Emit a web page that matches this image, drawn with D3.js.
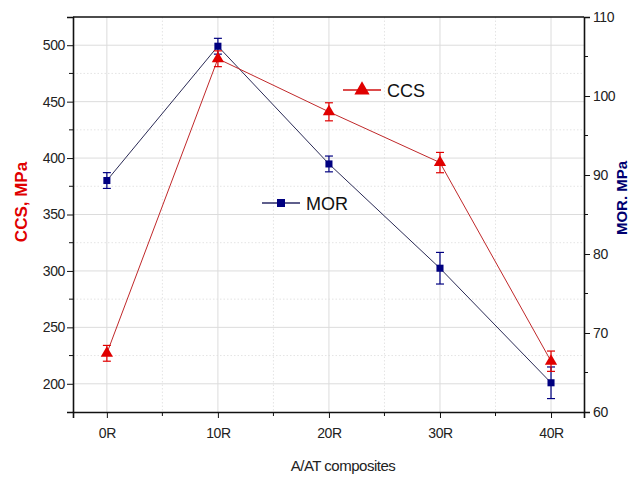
<!DOCTYPE html>
<html>
<head>
<meta charset="utf-8">
<script src="https://cdn.jsdelivr.net/npm/d3@7"></script>
<style>
  body { margin: 0; background: #fff; }
  svg { display: block; font-family: "Liberation Sans", Arial, sans-serif; }
  .grid-major line { stroke: #dcdcdc; stroke-width: 1; }
  .grid-minor line { stroke: #e4e4e4; stroke-width: 1; stroke-dasharray: 1.5, 2; }
  .axis path, .axis line { stroke: #111; }
  .axis text { font-family: "Liberation Sans", Arial, sans-serif; font-size: 14px; fill: #222; letter-spacing: -0.4px; }
</style>
</head>
<body>
<svg id="chart" width="629" height="479"></svg>
<script>
// categories (A/AT composites, % replacement)
const categories = ['0R', '10R', '20R', '30R', '40R'];
const xValues = [0, 10, 20, 30, 40];
// CCS, MPa (left axis)
const ccs = [227, 488, 441, 396, 220];
const ccsErr = [7, 7, 8, 9, 9];
// MOR, MPa (right axis)
const mor = [89.3, 106.3, 91.4, 78.2, 63.7];
const morErr = [1.0, 1.0, 1.0, 2.0, 2.0];
// tick values
const leftTicks = [200, 250, 300, 350, 400, 450, 500];
const rightTicks = [60, 70, 80, 90, 100, 110];

const margin = { top: 17, right: 45, bottom: 67, left: 73 };
const width = 629 - margin.left - margin.right;
const height = 479 - margin.top - margin.bottom;

const svg = d3.select('#chart');
const g = svg.append('g').attr('transform', `translate(${margin.left},${margin.top})`);

const x = d3.scaleLinear().domain([-3.05, 42.97]).range([0, width]);
const yL = d3.scaleLinear().domain([175, 525]).range([height, 0]);
const yR = d3.scaleLinear().domain([60, 110]).range([height, 0]);

// grid
const minorX = [5, 15, 25, 35];
const minorY = [225, 275, 325, 375, 425, 475];
const gMin = g.append('g').attr('class', 'grid-minor');
gMin.selectAll('line.v').data(minorX).enter().append('line')
  .attr('class', 'v')
  .attr('x1', d => x(d)).attr('x2', d => x(d)).attr('y1', 0).attr('y2', height);
gMin.selectAll('line.h').data(minorY).enter().append('line')
  .attr('class', 'h')
  .attr('x1', 0).attr('x2', width).attr('y1', d => yL(d)).attr('y2', d => yL(d));
const gMaj = g.append('g').attr('class', 'grid-major');
gMaj.selectAll('line.v').data(xValues).enter().append('line')
  .attr('class', 'v')
  .attr('x1', d => x(d)).attr('x2', d => x(d)).attr('y1', 0).attr('y2', height);
gMaj.selectAll('line.h').data(leftTicks).enter().append('line')
  .attr('class', 'h')
  .attr('x1', 0).attr('x2', width).attr('y1', d => yL(d)).attr('y2', d => yL(d));

// axes
const xAxis = g.append('g').attr('class', 'axis')
  .attr('transform', `translate(0,${height})`)
  .call(d3.axisBottom(x).tickValues(xValues).tickSize(6).tickPadding(10)
    .tickFormat((d, i) => categories[i]));
xAxis.selectAll('.minor').data(minorX).enter().append('line')
  .attr('class', 'minor').attr('x1', d => x(d)).attr('x2', d => x(d)).attr('y1', 0).attr('y2', 4)
  .attr('stroke', '#111');

const lAxis = g.append('g').attr('class', 'axis')
  .call(d3.axisLeft(yL).tickValues(leftTicks).tickSize(6).tickPadding(2));
lAxis.selectAll('.minor').data(minorY).enter().append('line')
  .attr('class', 'minor').attr('x1', 0).attr('x2', -4).attr('y1', d => yL(d)).attr('y2', d => yL(d))
  .attr('stroke', '#111');

const rAxis = g.append('g').attr('class', 'axis')
  .attr('transform', `translate(${width},0)`)
  .call(d3.axisRight(yR).tickValues(rightTicks).tickSize(6).tickPadding(3));
rAxis.selectAll('.minor').data([65, 75, 85, 95, 105]).enter().append('line')
  .attr('class', 'minor').attr('x1', 0).attr('x2', 4).attr('y1', d => yR(d)).attr('y2', d => yR(d))
  .attr('stroke', '#111');

g.selectAll('.axis .domain').attr('stroke-width', 1.6);
g.append('line').attr('x1', 0).attr('x2', width).attr('y1', 0).attr('y2', 0)
  .attr('stroke', '#111').attr('stroke-width', 1.6);

// series
const series = [
  { name: 'CCS', vals: ccs, err: ccsErr, y: yL, line: '#c0282a', mark: '#e00000', shape: d3.symbolTriangle },
  { name: 'MOR', vals: mor, err: morErr, y: yR, line: '#2a2a55', mark: '#000080', shape: d3.symbolSquare }
];

series.slice().reverse().forEach(s => {
  g.append('path')
    .datum(s.vals)
    .attr('fill', 'none')
    .attr('stroke', s.line)
    .attr('stroke-width', 1)
    .attr('d', d3.line().x((d, i) => x(xValues[i])).y(d => s.y(d)));
  const eb = g.append('g').attr('stroke', s.mark).attr('stroke-width', 1.2);
  s.vals.forEach((v, i) => {
    const cx = x(xValues[i]);
    const t = s.y(v + s.err[i]), b = s.y(v - s.err[i]);
    eb.append('line').attr('x1', cx).attr('x2', cx).attr('y1', t).attr('y2', b);
    eb.append('line').attr('x1', cx - 4).attr('x2', cx + 4).attr('y1', t).attr('y2', t);
    eb.append('line').attr('x1', cx - 4).attr('x2', cx + 4).attr('y1', b).attr('y2', b);
  });
  g.selectAll(null).data(s.vals).enter().append('path')
    .attr('d', d3.symbol().type(s.shape).size(s.name === 'CCS' ? 65 : 50))
    .attr('transform', (d, i) => `translate(${x(xValues[i])},${s.y(d)})`)
    .attr('fill', s.mark);
});

// legends
const legends = [
  { s: series[0], lx: 343, ly: 90 },
  { s: series[1], lx: 262, ly: 203 }
];
legends.forEach(l => {
  svg.append('line').attr('x1', l.lx).attr('x2', l.lx + 38).attr('y1', l.ly).attr('y2', l.ly)
    .attr('stroke', l.s.name === 'CCS' ? '#d01010' : '#2a2a66').attr('stroke-width', 1.6);
  svg.append('path')
    .attr('d', d3.symbol().type(l.s.shape).size(l.s.name === 'CCS' ? 100 : 64))
    .attr('transform', `translate(${l.lx + 19},${l.ly})`)
    .attr('fill', l.s.mark);
  svg.append('text').attr('x', l.lx + 44).attr('y', l.ly + 6.5)
    .attr('font-size', 18).attr('fill', '#111').text(l.s.name);
});

// axis titles
svg.append('text')
  .attr('transform', 'translate(27,202) rotate(-90)')
  .attr('text-anchor', 'middle').attr('font-size', 17).attr('font-weight', 'bold')
  .attr('fill', '#e00000').text('CCS, MPa');
svg.append('text')
  .attr('transform', 'translate(627,198) rotate(-90)')
  .attr('text-anchor', 'middle').attr('font-size', 15).attr('font-weight', 'bold')
  .attr('fill', '#000070').text('MOR. MPa');
svg.append('text')
  .attr('x', 343).attr('y', 471)
  .attr('text-anchor', 'middle').attr('font-size', 15).attr('fill', '#222')
  .attr('letter-spacing', -0.5)
  .text('A/AT composites');
</script>
</body>
</html>
